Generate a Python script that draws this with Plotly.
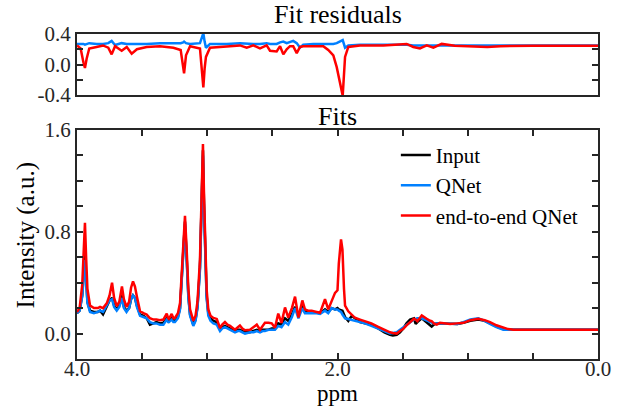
import plotly.graph_objects as go

# -- spectrum fits (ppm axis, descending) --
ppm = [4.00, 3.98, 3.96, 3.945, 3.939, 3.93, 3.92, 3.90, 3.87, 3.84, 3.823, 3.80, 3.77, 3.75,
       3.731, 3.715, 3.695, 3.675, 3.655, 3.64, 3.62, 3.60, 3.585, 3.57, 3.555, 3.54, 3.516,
       3.49, 3.465, 3.44, 3.414, 3.39, 3.363, 3.337, 3.311, 3.30, 3.294, 3.273, 3.26, 3.248,
       3.225, 3.209, 3.195, 3.184, 3.171, 3.158, 3.145, 3.132, 3.107, 3.09, 3.075, 3.056,
       3.043, 3.033, 3.025, 3.017, 3.005, 2.992, 2.975, 2.953, 2.927, 2.902, 2.885, 2.864,
       2.845, 2.825, 2.787, 2.765, 2.749, 2.73, 2.71, 2.672, 2.645, 2.62, 2.595, 2.575, 2.557,
       2.53, 2.505, 2.48, 2.455, 2.43, 2.403, 2.378, 2.35, 2.326, 2.30, 2.27, 2.25, 2.225,
       2.198, 2.16, 2.134, 2.096, 2.071, 2.045, 2.019, 2.00, 1.99, 1.973, 1.962, 1.95, 1.942,
       1.917, 1.89, 1.866, 1.827, 1.789, 1.74, 1.687, 1.64, 1.597, 1.575, 1.545, 1.52, 1.495,
       1.47, 1.443, 1.413, 1.40, 1.387, 1.353, 1.33, 1.315, 1.29, 1.277, 1.26, 1.238, 1.213,
       1.136, 1.08, 1.034, 0.98, 0.919, 0.87, 0.829, 0.78, 0.727, 0.69, 0.65, 0.50, 0.00]

input_fit = [0.16, 0.18, 0.30, 0.55, 0.62, 0.45, 0.25, 0.18, 0.17, 0.17, 0.18, 0.15, 0.21, 0.26,
             0.28, 0.22, 0.19, 0.22, 0.30, 0.21, 0.18, 0.20, 0.27, 0.30, 0.28, 0.22, 0.15,
             0.14, 0.12, 0.07, 0.08, 0.09, 0.08, 0.085, 0.12, 0.10, 0.095, 0.12, 0.10, 0.10,
             0.13, 0.20, 0.44, 0.66, 0.88, 0.60, 0.30, 0.15, 0.07, 0.11, 0.21, 0.52,
             0.98, 1.44, 1.02, 0.64, 0.30, 0.16, 0.12, 0.10, 0.09, 0.03, 0.05, 0.06,
             0.05, 0.04, 0.02, 0.03, 0.03, 0.02, 0.01, 0.01, 0.02, 0.03, 0.02, 0.03, 0.03,
             0.03, 0.04, 0.04, 0.08, 0.07, 0.12, 0.10, 0.15, 0.21, 0.14, 0.22, 0.17, 0.17,
             0.17, 0.165, 0.16, 0.19, 0.17, 0.20, 0.19, 0.20, 0.19, 0.18, 0.18, 0.15, 0.13,
             0.10, 0.14, 0.12, 0.09, 0.08, 0.07, 0.04, 0.01, -0.01, -0.015, -0.01, 0.01, 0.04,
             0.08, 0.11, 0.12, 0.075, 0.09, 0.12, 0.10, 0.09, 0.07, 0.055, 0.07, 0.08, 0.08,
             0.075, 0.075, 0.085, 0.10, 0.11, 0.10, 0.08, 0.055, 0.035, 0.03, 0.03, 0.03, 0.03]

qnet_fit = [0.16, 0.18, 0.29, 0.52, 0.58, 0.42, 0.24, 0.17, 0.16, 0.17, 0.18, 0.17, 0.22, 0.26,
            0.27, 0.21, 0.18, 0.21, 0.28, 0.20, 0.17, 0.20, 0.27, 0.30, 0.28, 0.21, 0.14,
            0.13, 0.12, 0.09, 0.08, 0.08, 0.07, 0.07, 0.11, 0.09, 0.09, 0.11, 0.09, 0.09,
            0.12, 0.19, 0.42, 0.64, 0.86, 0.58, 0.28, 0.14, 0.06, 0.10, 0.20, 0.50,
            0.95, 1.40, 0.98, 0.60, 0.28, 0.14, 0.10, 0.08, 0.07, 0.02, 0.04, 0.05,
            0.04, 0.03, 0.01, 0.02, 0.02, 0.01, 0.00, 0.01, 0.01, 0.02, 0.01, 0.02, 0.02,
            0.03, 0.03, 0.03, 0.06, 0.05, 0.09, 0.07, 0.13, 0.20, 0.12, 0.20, 0.16, 0.16,
            0.165, 0.16, 0.155, 0.18, 0.16, 0.20, 0.19, 0.19, 0.18, 0.17, 0.15, 0.13, 0.12,
            0.115, 0.11, 0.10, 0.09, 0.08, 0.06, 0.04, 0.02, 0.00, 0.005, 0.01, 0.03, 0.05,
            0.07, 0.09, 0.11, 0.115, 0.12, 0.12, 0.11, 0.10, 0.09, 0.085, 0.08, 0.08, 0.08,
            0.075, 0.075, 0.09, 0.11, 0.12, 0.10, 0.075, 0.05, 0.03, 0.03, 0.03, 0.03, 0.03]

e2e_fit = [0.17, 0.20, 0.38, 0.80, 0.87, 0.60, 0.35, 0.22, 0.20, 0.20, 0.21, 0.20, 0.24, 0.30,
           0.40, 0.28, 0.215, 0.25, 0.37, 0.27, 0.21, 0.25, 0.36, 0.41, 0.37, 0.29, 0.175,
           0.16, 0.15, 0.12, 0.11, 0.11, 0.105, 0.11, 0.157, 0.12, 0.115, 0.154, 0.12, 0.123,
           0.16, 0.24, 0.50, 0.71, 0.925, 0.66, 0.35, 0.19, 0.10, 0.14, 0.25, 0.58,
           1.05, 1.49, 1.10, 0.71, 0.35, 0.19, 0.14, 0.123, 0.115, 0.044, 0.07, 0.09,
           0.07, 0.06, 0.03, 0.05, 0.063, 0.04, 0.026, 0.03, 0.05, 0.07, 0.03, 0.06, 0.084,
           0.084, 0.08, 0.045, 0.157, 0.084, 0.205, 0.126, 0.20, 0.29, 0.126, 0.26, 0.19, 0.18,
           0.18, 0.17, 0.163, 0.27, 0.19, 0.255, 0.32, 0.34, 0.55, 0.74, 0.66, 0.35, 0.22,
           0.175, 0.15, 0.124, 0.11, 0.097, 0.08, 0.053, 0.03, 0.01, 0.005, 0.00, 0.02, 0.037,
           0.065, 0.09, 0.116, 0.11, 0.097, 0.142, 0.13, 0.116, 0.10, 0.097, 0.08, 0.07, 0.084,
           0.076, 0.08, 0.084, 0.105, 0.116, 0.105, 0.09, 0.065, 0.045, 0.035, 0.03, 0.03, 0.03]

# -- fit residuals (offset) --
res_ppm = [4.00, 3.972, 3.951, 3.939, 3.926, 3.906, 3.85, 3.80, 3.76, 3.734, 3.708, 3.657,
           3.618, 3.58, 3.54, 3.465, 3.363, 3.26, 3.204, 3.185, 3.178, 3.163, 3.132, 3.056,
           3.04, 3.03, 3.02, 3.01, 2.979, 2.85, 2.749, 2.697, 2.646, 2.595, 2.544, 2.518,
           2.467, 2.441, 2.416, 2.39, 2.365, 2.34, 2.313, 2.288, 2.263, 2.186, 2.109, 2.071,
           2.032, 2.006, 1.98, 1.96, 1.942, 1.917, 1.827, 1.648, 1.469, 1.418, 1.367, 1.315,
           1.264, 1.20, 1.10, 0.95, 0.85, 0.75, 0.50, 0.00]

qnet_res = [0.27, 0.27, 0.27, 0.26, 0.27, 0.28, 0.27, 0.27, 0.28, 0.31, 0.255, 0.28,
            0.27, 0.27, 0.27, 0.27, 0.28, 0.28, 0.28, 0.29, 0.30, 0.28, 0.27, 0.28,
            0.38, 0.41, 0.30, 0.22, 0.27, 0.27, 0.28, 0.27, 0.27, 0.27, 0.28, 0.27,
            0.27, 0.29, 0.30, 0.28, 0.29, 0.31, 0.28, 0.22, 0.26, 0.27, 0.27, 0.27,
            0.27, 0.28, 0.30, 0.32, 0.22, 0.25, 0.26, 0.26, 0.26, 0.25, 0.25, 0.25,
            0.25, 0.25, 0.25, 0.25, 0.25, 0.25, 0.25, 0.25]

e2e_res = [0.25, 0.21, 0.03, -0.045, 0.075, 0.21, 0.23, 0.25, 0.22, 0.133, 0.24, 0.18,
           0.23, 0.142, 0.20, 0.23, 0.24, 0.22, 0.19, 0.00, -0.115, 0.12, 0.24, 0.21,
           -0.05, -0.30, -0.05, 0.10, 0.22, 0.24, 0.25, 0.22, 0.25, 0.21, 0.25, 0.18,
           0.17, 0.24, 0.133, 0.20, 0.24, 0.24, 0.15, 0.23, 0.24, 0.24, 0.24, 0.19,
           0.12, -0.035, -0.25, -0.41, 0.10, 0.23, 0.25, 0.25, 0.27, 0.23, 0.21, 0.25,
           0.22, 0.27, 0.245, 0.24, 0.23, 0.24, 0.245, 0.245]

# tick labels
x_ticks = [4.0, 3.5, 3.0, 2.5, 2.0, 1.5, 1.0, 0.5, 0.0]
x_labels = ["4.0", "", "", "", "2.0", "", "", "", "0.0"]
res_ticks = [-0.4, -0.2, 0.0, 0.2, 0.4]
res_labels = ["-0.4", "", "0.0", "", "0.4"]
fit_ticks = [0.0, 0.2, 0.4, 0.6, 0.8, 1.0, 1.2, 1.4, 1.6]
fit_labels = ["0.0", "", "", "", "0.8", "", "", "", "1.6"]

BLACK = "black"
BLUE = "rgb(0,128,255)"
RED = "rgb(255,0,0)"
AX = "rgb(38,38,38)"
FONT = "Liberation Serif"


def serif(size, color="black"):
    return dict(family=FONT, size=size, color=color)


fig = go.Figure()

# residuals (top)
fig.add_trace(go.Scatter(x=res_ppm, y=qnet_res, mode="lines", line=dict(color=BLUE, width=2.5),
                         showlegend=False, xaxis="x2", yaxis="y2"))
fig.add_trace(go.Scatter(x=res_ppm, y=e2e_res, mode="lines", line=dict(color=RED, width=2.5),
                         showlegend=False, xaxis="x2", yaxis="y2"))

# fits (bottom)
fig.add_trace(go.Scatter(x=ppm, y=input_fit, mode="lines", name="Input",
                         line=dict(color=BLACK, width=2.5)))
fig.add_trace(go.Scatter(x=ppm, y=qnet_fit, mode="lines", name="QNet",
                         line=dict(color=BLUE, width=2.5)))
fig.add_trace(go.Scatter(x=ppm, y=e2e_fit, mode="lines", name="end-to-end QNet",
                         line=dict(color=RED, width=2.5)))

axis_common = dict(showline=True, linecolor=AX, linewidth=2, mirror="ticks", showgrid=False,
                   zeroline=False, tickcolor=AX, tickwidth=2, ticklen=6, ticks="inside",
                   automargin=False, tickfont=serif(21, "rgb(38,38,38)"))

fig.update_layout(
    width=636, height=415,
    margin=dict(l=77, r=38, t=34, b=56),
    plot_bgcolor="white", paper_bgcolor="white",
    font=serif(21),
    xaxis=dict(axis_common, range=[4, 0], tickvals=x_ticks, ticktext=x_labels,
               domain=[0, 1], anchor="y", ticklabelstandoff=-10),
    yaxis=dict(axis_common, range=[-0.2, 1.6], tickvals=fit_ticks, ticktext=fit_labels,
               domain=[0, 0.7046], anchor="x"),
    xaxis2=dict(axis_common, range=[4, 0], tickvals=x_ticks, showticklabels=False, ticks="",
                domain=[0, 1], anchor="y2"),
    yaxis2=dict(axis_common, range=[-0.4, 0.4], tickvals=res_ticks, ticktext=res_labels,
                domain=[0.8123, 1], anchor="x2"),
    legend=dict(x=0.612, y=0.69, xanchor="left", yanchor="top", bgcolor="rgba(0,0,0,0)",
                font=serif(21), tracegroupgap=0),
    annotations=[
        dict(text="Fit residuals", x=0.5, y=1.06, xref="paper", yref="paper",
             showarrow=False, font=serif(26), xanchor="center", yanchor="middle"),
        dict(text="Fits", x=0.5, y=0.745, xref="paper", yref="paper",
             showarrow=False, font=serif(26), xanchor="center", yanchor="middle"),
        dict(text="ppm", x=0.5, y=-0.106, xref="paper", yref="paper",
             showarrow=False, font=serif(23), xanchor="center", yanchor="middle"),
        dict(text="Intensity (a.u.)", x=-0.098, y=0.38, xref="paper", yref="paper",
             showarrow=False, font=serif(25), textangle=-90,
             xanchor="center", yanchor="middle"),
    ],
)

# drop the default 8px page margin so the figure fills the window
fig.write_html("out.html", config={"displayModeBar": False},
               post_script="document.body.style.margin='0';")
